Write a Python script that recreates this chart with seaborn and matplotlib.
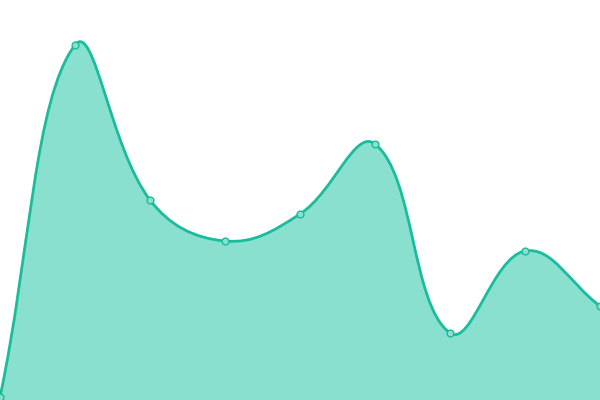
"""Smooth area chart with point markers, no axes."""

import numpy as np
import matplotlib
matplotlib.use("Agg")
import matplotlib.pyplot as plt
from matplotlib.path import Path
from matplotlib.patches import PathPatch
import seaborn as sns

# Data
categories = [0, 1, 2, 3, 4, 5, 6, 7, 8]
values = [3, 355, 200, 159, 186, 256, 67, 149, 94]

LINE = "#1abc9c"
FILL = "#8ae0cf"
SMOOTH = 0.4


def smooth_path(xs, ys, smooth=SMOOTH):
    """Cubic Bezier path through the points (ECharts-style smoothing)."""
    pts = np.column_stack([xs, ys]).astype(float)
    n = len(pts)
    cps = []
    for i in range(n):
        p = pts[i]
        prev = pts[max(i - 1, 0)]
        nxt = pts[min(i + 1, n - 1)]
        v = (nxt - prev) * smooth
        d0 = np.hypot(*(p - prev))
        d1 = np.hypot(*(nxt - p))
        s = d0 + d1
        r0, r1 = (d0 / s, d1 / s) if s else (0, 0)
        cps.append((p - v * r0, p + v * r1))
    verts = [pts[0]]
    codes = [Path.MOVETO]
    for i in range(n - 1):
        verts += [cps[i][1], cps[i + 1][0], pts[i + 1]]
        codes += [Path.CURVE4] * 3
    return verts, codes


sns.set_style("white")
fig = plt.figure(figsize=(6, 4), dpi=100)
ax = fig.add_axes([0, 0, 1, 1])

# x in pixel-like units so smoothing matches screen distances
xs = np.array(categories) * 75.0
ys = np.array(values, dtype=float)

verts, codes = smooth_path(xs, ys)

# filled area
area_verts = verts + [(xs[-1], 0), (xs[0], 0), verts[0]]
area_codes = codes + [Path.LINETO, Path.LINETO, Path.CLOSEPOLY]
ax.add_patch(PathPatch(Path(area_verts, area_codes), facecolor=FILL,
                       edgecolor="none", zorder=1))
# line
ax.add_patch(PathPatch(Path(verts, codes), facecolor="none",
                       edgecolor=LINE, linewidth=2.0, zorder=2))

sns.scatterplot(x=xs, y=ys, ax=ax, s=24, color=FILL, edgecolor=LINE,
                linewidth=1.0, zorder=3, clip_on=False)

ax.set_xlim(0, 600)
ax.set_ylim(0, 400)
ax.axis("off")

fig.savefig("out.png", dpi=100)
